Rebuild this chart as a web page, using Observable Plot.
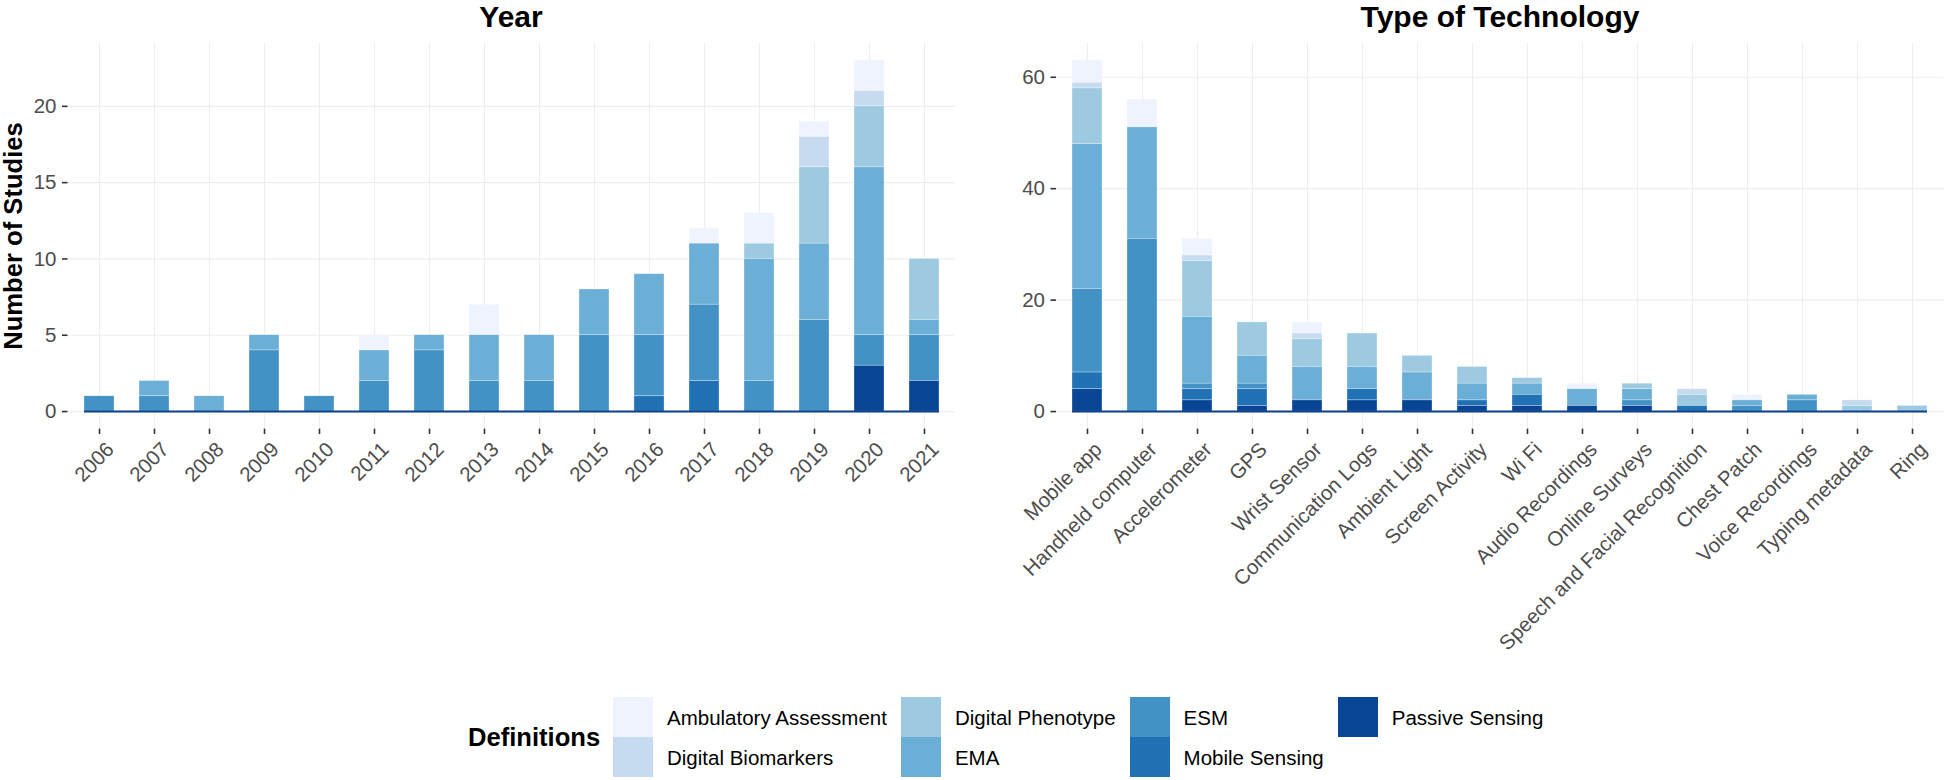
<!DOCTYPE html>
<html>
<head>
<meta charset="utf-8">
<script src="https://cdn.jsdelivr.net/npm/d3@7"></script>
<script src="https://cdn.jsdelivr.net/npm/@observablehq/plot@0.6"></script>
<style>
  html, body { margin: 0; padding: 0; background: #fff; }
  body { font-family: "Liberation Sans", Arial, sans-serif; }
  #root { position: relative; width: 1944px; height: 780px; overflow: hidden; background: #fff; }
  .ptitle { position: absolute; top: 0px; font-size: 30px; line-height: 34px; font-weight: bold; color: #000; transform: translateX(-50%); white-space: nowrap; z-index: 5; }
  .ytitle { position: absolute; font-size: 25.6px; line-height: 25.6px; font-weight: bold; color: #000; white-space: nowrap; transform: translate(-50%, -50%) rotate(-90deg); z-index: 5; }
  .plotbox { position: absolute; top: 0; z-index: 1; }
  #legend { position: absolute; left: 468px; top: 697px; display: flex; align-items: center; z-index: 5; }
  #legend .ltitle { font-size: 25.6px; font-weight: bold; color: #000; width: 145px; }
  #legend .grid { display: grid; grid-template-rows: 40px 40px; grid-auto-flow: column; }
  #legend .item { display: flex; align-items: center; padding-right: 14px; }
  #legend .sw { width: 40px; height: 40px; }
  #legend .lab { margin-left: 14px; font-size: 20.5px; color: #000; white-space: nowrap; padding-top: 2px; }
</style>
</head>
<body>
<div id="root">
  <div id="left" class="plotbox" style="left:0px"></div>
  <div id="right" class="plotbox" style="left:975px"></div>
  <div class="ptitle" style="left:511px">Year</div>
  <div class="ptitle" style="left:1500px">Type of Technology</div>
  <div class="ytitle" style="left:14px; top:236px">Number of Studies</div>
  <div id="legend"></div>
</div>
<script>
// ---- Definitions (legend) ----
const defs = ["Ambulatory Assessment", "Digital Biomarkers", "Digital Phenotype", "EMA", "ESM", "Mobile Sensing", "Passive Sensing"];
const defColors = ["#eff3ff", "#c6dbef", "#9ecae1", "#6baed6", "#4292c6", "#2171b5", "#084594"];

// ---- Panel 1: Year ----
const years = ["2006","2007","2008","2009","2010","2011","2012","2013","2014","2015","2016","2017","2018","2019","2020","2021"];
const yearAmbulatory = [0,0,0,0,0,1,0,2,0,0,0,1,2,1,2,0];
const yearBiomarkers = [0,0,0,0,0,0,0,0,0,0,0,0,0,2,1,0];
const yearPhenotype  = [0,0,0,0,0,0,0,0,0,0,0,0,1,5,4,4];
const yearEMA        = [0,1,1,1,0,2,1,3,3,3,4,4,8,5,11,1];
const yearESM        = [1,1,0,4,1,2,4,2,2,5,4,5,2,6,2,3];
const yearMobile     = [0,0,0,0,0,0,0,0,0,0,1,2,0,0,0,0];
const yearPassive    = [0,0,0,0,0,0,0,0,0,0,0,0,0,0,3,2];
const yearTicks = [0, 5, 10, 15, 20];

// ---- Panel 2: Type of Technology ----
const techs = ["Mobile app","Handheld computer","Accelerometer","GPS","Wrist Sensor","Communication Logs","Ambient Light","Screen Activity","Wi Fi","Audio Recordings","Online Surveys","Speech and Facial Recognition","Chest Patch","Voice Recordings","Typing metadata","Ring"];
const techAmbulatory = [4,5,3,0,2,0,0,0,0,1,0,0,1,0,0,0];
const techBiomarkers = [1,0,1,0,1,0,0,0,0,0,0,1,0,0,1,0];
const techPhenotype  = [10,0,10,6,5,6,3,3,1,0,1,2,0,0,1,1];
const techEMA        = [26,20,12,5,6,4,5,3,2,3,2,0,1,1,0,0];
const techESM        = [15,31,1,1,0,0,0,0,0,0,1,0,1,2,0,0];
const techMobile     = [3,0,2,3,0,2,0,1,2,0,0,1,0,0,0,0];
const techPassive    = [4,0,2,1,2,2,2,1,1,1,1,0,0,0,0,0];
const techTicks = [0, 20, 40, 60];

function rows(cats, series) {
  const out = [];
  cats.forEach((c, i) => series.forEach((s, j) => { if (s[i] > 0) out.push({cat: c, def: defs[j], n: s[i]}); }));
  return out;
}
const yearRows = rows(years, [yearAmbulatory, yearBiomarkers, yearPhenotype, yearEMA, yearESM, yearMobile, yearPassive]);
const techRows = rows(techs, [techAmbulatory, techBiomarkers, techPhenotype, techEMA, techESM, techMobile, techPassive]);
const stackOrder = defs.slice().reverse();

function panel(cats, data, ticks, width, mLeft, mRight) {
  const H = 680, top = 42.5, bottom = 428.6;
  const maxTotal = d3.max(d3.rollup(data, v => d3.sum(v, d => d.n), d => d.cat).values());
  const ex = maxTotal * 0.05;
  return Plot.plot({
    width, height: H,
    marginLeft: mLeft, marginRight: mRight, marginTop: top, marginBottom: H - bottom,
    style: {fontFamily: '"Liberation Sans", Arial, sans-serif', fontSize: "20.5px", background: "transparent", overflow: "visible"},
    x: {domain: cats, paddingInner: 0.457, paddingOuter: 0.263, label: null},
    y: {domain: [-ex, maxTotal + ex], label: null},
    color: {domain: defs, range: defColors},
    marks: [
      Plot.gridY(ticks, {stroke: "#eeeeee", strokeOpacity: 1, strokeWidth: 1.2}),
      Plot.gridX(cats, {stroke: "#eeeeee", strokeOpacity: 1, strokeWidth: 1.2}),
      Plot.barY(data, {x: "cat", y: "n", fill: "def", order: stackOrder, stroke: "#ffffff", strokeWidth: 0.6, strokeOpacity: 0.5}),
      Plot.ruleY([{a: cats[0], b: cats[cats.length - 1], v: 0}], {x1: "a", x2: "b", y: "v", stroke: "#0a3f8c", strokeWidth: 2}),
      Plot.axisY(ticks, {tickSize: 5.5, tickPadding: 6, stroke: "#333333", strokeWidth: 1.6, fill: "#4d4d4d", label: null}),
      Plot.axisX(cats, {tickSize: 5.5, text: null, stroke: "#333333", strokeWidth: 1.6, label: null}),
      Plot.axisX(cats, {tickSize: 0, tickRotate: -45, tickPadding: 17, dx: 11, fill: "#4d4d4d", label: null})
    ]
  });
}

document.getElementById("left").appendChild(panel(years, yearRows, yearTicks, 975, 67.5, 975 - 954.5));
document.getElementById("right").appendChild(panel(techs, techRows, techTicks, 969, 81, 0.5));

// ---- Legend ----
const lg = document.getElementById("legend");
const t = document.createElement("div"); t.className = "ltitle"; t.textContent = "Definitions"; lg.appendChild(t);
const grid = document.createElement("div"); grid.className = "grid"; lg.appendChild(grid);
defs.forEach((d, i) => {
  const it = document.createElement("div"); it.className = "item";
  const sw = document.createElement("div"); sw.className = "sw"; sw.style.background = defColors[i];
  const lab = document.createElement("div"); lab.className = "lab"; lab.textContent = d;
  it.appendChild(sw); it.appendChild(lab); grid.appendChild(it);
});
</script>
</body>
</html>
